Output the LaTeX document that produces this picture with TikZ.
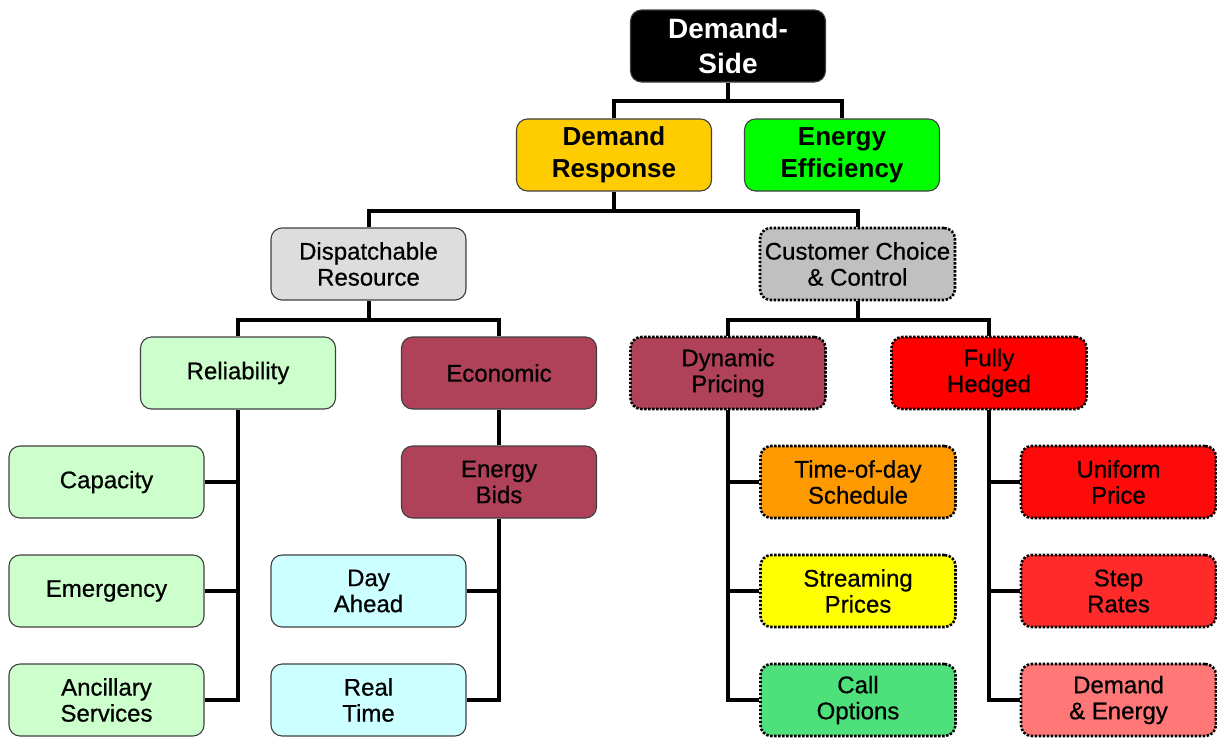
\documentclass[tikz,border=0pt]{standalone}
\usepackage{fontspec}
\setmainfont{Liberation Sans}
\newfontfamily\regfont{Liberation Sans}[FakeBold=0.6]
\usetikzlibrary{calc}
\definecolor{cgold}{HTML}{FFCC00}
\definecolor{cgreen}{HTML}{00FF00}
\definecolor{cgray}{HTML}{DDDDDD}
\definecolor{cgrayd}{HTML}{C0C0C0}
\definecolor{cmint}{HTML}{CCFFCC}
\definecolor{cmaroon}{HTML}{AF4259}
\definecolor{cred}{HTML}{FF0000}
\definecolor{cred2}{HTML}{FF0A0A}
\definecolor{cred3}{HTML}{FF2A2A}
\definecolor{cpink}{HTML}{FF7777}
\definecolor{corange}{HTML}{FF9900}
\definecolor{cyellow}{HTML}{FFFF00}
\definecolor{cgreen2}{HTML}{4EE07A}
\definecolor{ccyan}{HTML}{CCFFFF}
\definecolor{cborder}{HTML}{404040}
\begin{document}
\begin{tikzpicture}[x=1pt,y=-1pt,
  box/.style={rounded corners=11pt, minimum width=195pt, minimum height=72pt,
    inner sep=0pt, align=center, draw=cborder, line width=1.1pt,
    font=\regfont\fontsize{24}{26}\selectfont},
  boldbox/.style={box, font=\fontsize{26}{32}\selectfont\bfseries},
  dotbox/.style={box, draw=black, line width=2.6pt, dash pattern=on 2.4pt off 1.6pt},
  conn/.style={draw=black, line width=4pt, line join=miter}]
\path[use as bounding box] (0,0) rectangle (1217,739);
% nodes
\node[boldbox, fill=black, text=white, font=\fontsize{28}{35}\selectfont\bfseries] (ds) at (728,46) {Demand-\\Side};
\node[boldbox, fill=cgold] (dr) at (614,155) {Demand\\Response};
\node[boldbox, fill=cgreen] (ee) at (842,155) {Energy\\Efficiency};
\node[box, fill=cgray] (dis) at (368.5,264) {Dispatchable\\Resource};
\node[dotbox, fill=cgrayd] (cc) at (857.5,264) {Customer Choice\\\& Control};
\node[box, fill=cmint] (rel) at (238,373) {Reliability};
\node[box, fill=cmaroon] (eco) at (499,373) {Economic};
\node[dotbox, fill=cmaroon] (dyn) at (728,373) {Dynamic\\Pricing};
\node[dotbox, fill=cred] (fh) at (989,373) {Fully\\Hedged};
\node[box, fill=cmint] (cap) at (106.5,482) {Capacity};
\node[box, fill=cmaroon] (eb) at (499,482) {Energy\\Bids};
\node[dotbox, fill=corange] (tod) at (858,482) {Time-of-day\\Schedule};
\node[dotbox, fill=cred2] (up) at (1118.5,482) {Uniform\\Price};
\node[box, fill=cmint] (emg) at (106.5,591) {Emergency};
\node[box, fill=ccyan] (da) at (368.5,591) {Day\\Ahead};
\node[dotbox, fill=cyellow] (sp) at (858,591) {Streaming\\Prices};
\node[dotbox, fill=cred3] (sr) at (1118.5,591) {Step\\Rates};
\node[box, fill=cmint] (anc) at (106.5,700) {Ancillary\\Services};
\node[box, fill=ccyan] (rt) at (368.5,700) {Real\\Time};
\node[dotbox, fill=cgreen2] (co) at (858,700) {Call\\Options};
\node[dotbox, fill=cpink] (de) at (1118.5,700) {Demand\\\& Energy};
% connectors
\draw[conn] (ds.south) -- ++(0,18) coordinate (dsb);
\draw[conn] (dr.north) |- (dsb) -| (ee.north);
\draw[conn] (dr.south) -- ++(0,19) coordinate (drb);
\draw[conn] (dis.north) |- (drb) -| (cc.north);
\draw[conn] (dis.south) -- ++(0,19) coordinate (disb);
\draw[conn] (rel.north) |- (disb) -| (eco.north);
\draw[conn] (cc.south) -- ++(0,19) coordinate (ccb);
\draw[conn] (dyn.north) |- (ccb) -| (fh.north);
\draw[conn] (rel.south) |- (anc.east);
\draw[conn] (cap.east) -- (cap.east -| rel.south);
\draw[conn] (emg.east) -- (emg.east -| rel.south);
\draw[conn] (eco.south) -- (eb.north);
\draw[conn] (eb.south) |- (rt.east);
\draw[conn] (da.east) -- (da.east -| eb.south);
\draw[conn] (dyn.south) |- (co.west);
\draw[conn] (tod.west) -- (tod.west -| dyn.south);
\draw[conn] (sp.west) -- (sp.west -| dyn.south);
\draw[conn] (fh.south) |- (de.west);
\draw[conn] (up.west) -- (up.west -| fh.south);
\draw[conn] (sr.west) -- (sr.west -| fh.south);
\end{tikzpicture}
\end{document}
